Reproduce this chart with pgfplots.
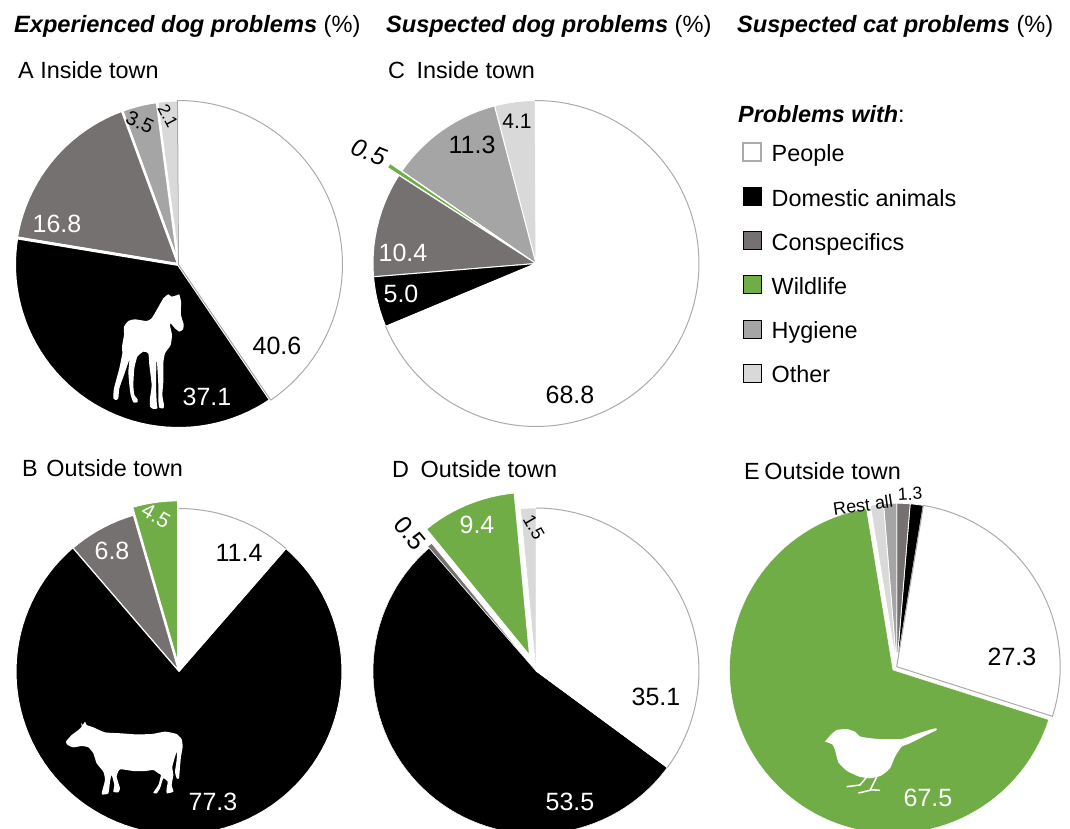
\documentclass[border=0pt]{standalone}
\usepackage{fontspec}
\setmainfont{Liberation Sans}
\usepackage{pgfplots}
\usepackage{pgfplotstable}
\pgfplotsset{compat=1.18}

\definecolor{cPeople}{HTML}{FFFFFF}
\definecolor{cDomestic}{HTML}{000000}
\definecolor{cConspec}{HTML}{767171}
\definecolor{cWild}{HTML}{70AD47}
\definecolor{cHygiene}{HTML}{A5A5A5}
\definecolor{cOther}{HTML}{D9D9D9}
\definecolor{cLine}{HTML}{ABABAB}

% rows run anticlockwise from the start angle, so People is drawn last
\pgfplotstableread{
value fillc     edge  lw  explode arc
2.1   cOther    white 2.0 0       0
3.5   cHygiene  white 2.5 0       0
16.8  cConspec  white 2.5 0       0
37.1  cDomestic white 3.0 0       0
40.6  cPeople   cLine 1.0 0       0
}\pieA
\pgfplotstableread{
value fillc     edge  lw  explode arc
4.5   cWild     white 1.5 8       0
6.8   cConspec  white 1.5 0       0
77.3  cDomestic white 1.0 0       0
11.4  cPeople   white 0.5 0       1
}\pieB
\pgfplotstableread{
value fillc     edge  lw  explode arc
4.1   cOther    white 1.0 0       0
11.3  cHygiene  white 1.0 0       0
0.5   cWild     white 1.2 14      0
10.4  cConspec  white 1.0 0       0
5.0   cDomestic white 1.0 0       0
68.8  cPeople   white 0.5 0       1
}\pieC
\pgfplotstableread{
value fillc     edge  lw  explode arc
1.5   cOther    white 0.5 0       0
9.4   cWild     white 1.0 17      0
0.5   cConspec  white 0.6 2       0
53.5  cDomestic white 0.5 0       0
35.1  cPeople   white 0.5 0       1
}\pieD
\pgfplotstableread{
value fillc     edge  lw  explode arc
1.3   cDomestic white 0.8 0       0
1.3   cConspec  white 0.8 0       0
1.3   cHygiene  white 0.8 0       0
1.3   cOther    white 0.8 0       0
67.5  cWild     white 0.5 5       0
27.3  cPeople   cLine 1.0 0       0
}\pieE

% \drawpie{table}{cx}{cy}{r}{start angle}; angles clockwise from 12 o'clock
\newcommand\drawpie[5]{%
  \pgfplotstablegetrowsof{#1}%
  \pgfmathtruncatemacro\lastrow{\pgfplotsretval-1}%
  \xdef\curang{#5}%
  \foreach \i in {0,...,\lastrow}{%
    \pgfplotstablegetelem{\i}{value}\of{#1}\edef\sval{\pgfplotsretval}%
    \pgfplotstablegetelem{\i}{fillc}\of{#1}\edef\sfill{\pgfplotsretval}%
    \pgfplotstablegetelem{\i}{edge}\of{#1}\edef\sedge{\pgfplotsretval}%
    \pgfplotstablegetelem{\i}{lw}\of{#1}\edef\slw{\pgfplotsretval}%
    \pgfplotstablegetelem{\i}{explode}\of{#1}\edef\sexp{\pgfplotsretval}%
    \pgfplotstablegetelem{\i}{arc}\of{#1}\edef\sarc{\pgfplotsretval}%
    \pgfmathsetmacro\sweep{\sval*3.6}%
    \pgfmathsetmacro\midang{\curang-\sweep/2}%
    \pgfmathsetmacro\ox{#2+\sexp*sin(\midang)}%
    \pgfmathsetmacro\oy{#3-\sexp*cos(\midang)}%
    \pgfmathtruncatemacro\nseg{max(2,ceil(\sweep/3))}%
    \xdef\arcpts{}%
    \foreach \k in {0,...,\nseg}{%
      \pgfmathsetmacro\ang{\curang-\sweep*(\k/\nseg)}%
      \pgfmathsetmacro\px{\ox+#4*sin(\ang)}%
      \pgfmathsetmacro\py{\oy-#4*cos(\ang)}%
      \xdef\arcpts{\arcpts (\px,\py)}%
    }%
    \edef\cmd{\noexpand\addplot[forget plot,fill=\sfill,draw=\sedge,line width=\slw pt,line join=round]
      coordinates {(\ox,\oy) \arcpts} -- cycle;}\cmd
    \ifnum\sarc=1
      \edef\cmd{\noexpand\addplot[forget plot,draw=cLine,line width=1pt] coordinates {\arcpts};}\cmd
    \fi
    \pgfmathsetmacro\nextang{\curang-\sweep}%
    \xdef\curang{\nextang}%
  }%
}

\newcommand\num[4][]{\node[font=\fontsize{25}{25}\selectfont,#1] at (axis cs:#2,#3) {#4};}
\newcommand\hdr[4]{\node[anchor=base west,font=\fontsize{#3}{#3}\selectfont,inner sep=0pt] at (axis cs:#1,#2) {#4};}

\begin{document}
\begin{tikzpicture}
\path[use as bounding box] (0,0) rectangle (1070pt,828pt);
\begin{axis}[
  at={(0,0)},anchor=south west,
  x=1pt,y=1pt,
  xmin=0,xmax=1070,ymin=0,ymax=828,
  y dir=reverse,
  hide axis,
  clip=true,
  legend cell align=left,
  legend image code/.code={\draw[#1] (0pt,-4.5pt) rectangle (18pt,13.5pt);},
  legend style={draw=none,fill=none,at={(axis cs:739,140)},anchor=north west,
    font=\fontsize{23.4}{28}\selectfont,row sep=19pt,
    nodes={inner sep=0pt,text height=17pt,text depth=6pt}},
]
\addlegendimage{draw=cLine,fill=white,line width=1.5pt}\addlegendentry{\hspace{10pt}People}
\addlegendimage{draw=none,fill=cDomestic}\addlegendentry{\hspace{10pt}Domestic animals}
\addlegendimage{draw=none,fill=cConspec}\addlegendentry{\hspace{10pt}Conspecifics}
\addlegendimage{draw=none,fill=cWild}\addlegendentry{\hspace{10pt}Wildlife}
\addlegendimage{draw=none,fill=cHygiene}\addlegendentry{\hspace{10pt}Hygiene}
\addlegendimage{draw=none,fill=cOther}\addlegendentry{\hspace{10pt}Other}

\drawpie{\pieA}{178.5}{264.5}{164}{0}
\drawpie{\pieB}{179}{671.5}{163}{0}
\drawpie{\pieC}{536}{263.5}{163}{0}
\drawpie{\pieD}{536}{671}{163}{0}
\drawpie{\pieE}{896.7}{666.7}{163.5}{9.4}

% foal, traced in 3x crop coordinates
\addplot[forget plot,fill=white,draw=none,smooth,tension=0.3,
  x filter/.expression={100+x/3},y filter/.expression={285+y/3}] coordinates {
  (238,28) (243,50) (243,90) (251,118) (249,133) (238,140) (225,130) (212,115) (210,122)
  (216,150) (212,180) (195,205) (190,235) (190,290) (187,330) (192,360) (190,370) (178,368)
  (175,345) (175,300) (170,220) (168,300) (170,350) (172,370) (160,372) (150,365) (150,340)
  (155,300) (148,240) (145,205) (130,200) (112,215) (103,250) (100,300) (103,330) (113,343)
  (112,352) (100,352) (92,330) (88,300) (85,260) (88,225) (72,270) (58,310) (55,340) (48,345)
  (40,340) (42,310) (58,250) (67,205) (66,185) (72,150) (72,125) (85,108) (105,103) (140,108)
  (155,100) (170,75) (190,40) (205,28) (215,35) (238,28)} -- cycle;
% cow
\addplot[forget plot,fill=white,draw=none,smooth,tension=0.3,
  x filter/.expression={55+x/3},y filter/.expression={710+y/3}] coordinates {
  (78,38) (83,45) (90,35) (95,45) (115,52) (150,67) (200,70) (240,73) (290,72) (330,65)
  (365,72) (380,88) (383,110) (378,140) (375,170) (372,205) (365,205) (360,185) (365,150)
  (365,125) (352,170) (355,195) (350,225) (355,245) (335,250) (335,235) (338,215) (325,205)
  (315,235) (305,250) (295,248) (310,225) (318,195) (310,190) (295,180) (270,183) (235,183)
  (195,178) (185,200) (195,235) (190,247) (175,245) (178,225) (170,195) (165,215) (160,250)
  (140,252) (150,210) (145,185) (125,160) (115,130) (100,112) (80,108) (55,112) (38,105)
  (33,95) (50,75) (70,60) (80,50) (78,38)} -- cycle;
% bird
\addplot[forget plot,fill=white,draw=none,smooth,tension=0.3,
  x filter/.expression={815+x/3},y filter/.expression={715+y/3}] coordinates {
  (30,80) (47,60) (65,45) (95,42) (120,50) (137,65) (190,72) (260,72) (300,58) (360,40)
  (365,45) (330,62) (285,85) (260,95) (240,125) (225,160) (198,182) (165,190) (130,184)
  (95,167) (70,142) (60,105) (52,88) (30,80)} -- cycle;
\addplot[forget plot,draw=white,line width=1.5pt,
  x filter/.expression={815+x/3},y filter/.expression={715+y/3}] coordinates {
  (155,186) (135,210) (95,215)};
\addplot[forget plot,draw=white,line width=1.5pt,
  x filter/.expression={815+x/3},y filter/.expression={715+y/3}] coordinates {
  (185,186) (165,226) (130,234)};
\addplot[forget plot,draw=white,line width=1.5pt,
  x filter/.expression={815+x/3},y filter/.expression={715+y/3}] coordinates {
  (165,224) (195,226)};

% headers
\hdr{14}{32}{23.6}{\textbf{\textit{Experienced dog problems}} (\%)}
\hdr{386}{32}{23.6}{\textbf{\textit{Suspected dog problems}} (\%)}
\hdr{737}{32}{23.6}{\textbf{\textit{Suspected cat problems}} (\%)}
\hdr{18}{78}{23.4}{A Inside town}
\hdr{22}{476}{23.4}{B\hspace{2pt} Outside town}
\hdr{388}{78}{23.4}{C\hspace{5pt} Inside town}
\hdr{392}{477}{23.4}{D\hspace{5pt} Outside town}
\hdr{744}{479}{23.4}{E\hspace{-2pt} Outside town}
\hdr{738}{122}{23.4}{\textbf{\textit{Problems with}}:}

% slice values
\num{277}{346}{40.6}
\num[text=white]{207}{397}{37.1}
\num[text=white]{57}{224}{16.8}
\num[font=\fontsize{20}{20}\selectfont,rotate=-25]{140}{122}{3.5}
\num[font=\fontsize{17}{17}\selectfont,rotate=-62]{168}{116}{2.1}
\num{239}{553}{11.4}
\num[text=white]{112}{551}{6.8}
\num[text=white,font=\fontsize{21}{21}\selectfont,rotate=-30]{156}{516}{4.5}
\num[text=white]{213}{802}{77.3}
\num{570}{395}{68.8}
\num[text=white]{401}{294}{5.0}
\num[text=white]{403}{253}{10.4}
\num{472}{145}{11.3}
\num[font=\fontsize{21}{21}\selectfont]{517}{121}{4.1}
\num[font=\fontsize{25}{25}\selectfont\itshape,rotate=-22]{369}{152}{0.5}
\num{656}{697}{35.1}
\num[text=white]{570}{802}{53.5}
\num[text=white]{477}{525}{9.4}
\num[rotate=-50]{410}{533}{0.5}
\num[font=\fontsize{18}{18}\selectfont,rotate=-60]{534}{527}{1.5}
\num{1012}{657}{27.3}
\num[text=white]{928}{798}{67.5}
\num[font=\fontsize{18}{18}\selectfont,rotate=8]{863}{505}{Rest all}
\num[font=\fontsize{17.5}{17.5}\selectfont,rotate=3]{910}{494}{1.3}
\end{axis}
\end{tikzpicture}
\end{document}
